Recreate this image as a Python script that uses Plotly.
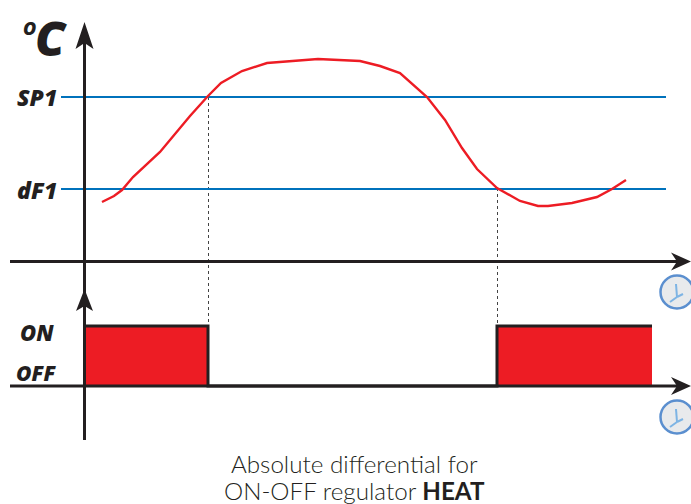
import plotly.graph_objects as go

curve_t = [102,114,122,133,160,190,208,221,242,267,318,360,380,400,427,445,462,477,497,520,538,548,572,597,612,626]
curve_v = [202,196,190,177,152,116,96,83,71,63,59,61,66,73,97,120,148,169,188,201,206,206,203,197,189,180]
levels = {"SP1": 97, "dF1": 189}
on_periods = [(85, 208), (497, 652)]
y_on, y_off = 327, 386
y_axis_temp = 261.5
clocks = [(677, 292), (677, 417)]

DARK = "#231f20"
RED = "#ed1c24"
BLUE = "#0072bc"
FONT = "Open Sans"

fig = go.Figure()

def line(xs, ys, color=DARK, width=3, dash=None, shape="linear"):
    fig.add_trace(go.Scatter(x=xs, y=ys, mode="lines", hoverinfo="skip",
                             line=dict(color=color, width=width, dash=dash, shape=shape)))

def poly(xs, ys, fill, color=None, width=0):
    fig.add_trace(go.Scatter(x=xs, y=ys, mode="lines", fill="toself", fillcolor=fill, hoverinfo="skip",
                             line=dict(color=color or fill, width=width)))

# ON bars
for a, b in on_periods:
    poly([a, b, b, a, a], [y_on, y_on, y_off, y_off, y_on], RED)

# Dashed drop lines
line([208.5, 208.5], [97, y_on], "#444444", 1, "3px,3px")
line([497.5, 497.5], [188, y_on], "#444444", 1, "3px,3px")

# Level lines
for name, y in levels.items():
    line([61, 666], [y, y], BLUE, 2)

# Axes
line([84.5, 84.5], [40, 440], DARK, 3)
line([10, 680], [y_axis_temp, y_axis_temp], DARK, 3)
line([10, 680], [y_off, y_off], DARK, 3)

# Arrowheads
poly([84.5, 93.5, 84.5, 75.5, 84.5], [22, 49, 43, 49, 22], DARK)
poly([84.5, 93, 84.5, 76, 84.5], [289, 311, 306, 311, 289], DARK)
for y in (y_axis_temp, y_off):
    poly([691, 671, 677, 671, 691], [y, y - 9, y, y + 9, y], DARK)

# ON state outline
line([85, 208, 208, 497, 497, 652], [326, 326, y_off, y_off, 326, 326], DARK, 3)

# Curve
line(curve_t, curve_v, RED, 2.4)

# Clock icons
shapes = []
for cx, cy in clocks:
    shapes.append(dict(type="circle", xref="x", yref="y", x0=cx-16.5, x1=cx+16.5, y0=cy-16.5, y1=cy+16.5,
                       fillcolor="#e8eaec", line=dict(color="#5b8fcf", width=2.5)))
    shapes.append(dict(type="line", xref="x", yref="y", x0=cx, x1=cx-7, y0=cy+5, y1=cy+10,
                       line=dict(color="#7db4e4", width=2)))
    shapes.append(dict(type="line", xref="x", yref="y", x0=cx, x1=cx-1, y0=cy+5, y1=cy-8,
                       line=dict(color="#7db4e4", width=2)))
    shapes.append(dict(type="line", xref="x", yref="y", x0=cx, x1=cx+6, y0=cy+5, y1=cy+2,
                       line=dict(color="#7db4e4", width=2)))

def label(x, y, text, size, anchor="left", family=FONT, weight=None, style=None):
    fig.add_annotation(x=x, y=y, text=text, showarrow=False, xanchor=anchor, yanchor="middle",
                       xref="x", yref="y",
                       font=dict(family=family, size=size, color=DARK, weight=weight, style=style))

label(21, 28, "O", 18, weight=800, style="italic")
label(33, 37, "C", 48, weight=800, style="italic")
label(15, 97, "SP1", 23, weight=800, style="italic")
label(15, 190, "dF1", 23, weight=800, style="italic")
label(18, 332, "ON", 22, weight=800, style="italic")
label(14, 373, "OFF", 21, weight=800, style="italic")
label(354, 463.5, "Absolute differential for", 24.2, "center", "Lato", 300)
label(354, 490.5, "ON-OFF regulator <b>HEAT</b>", 24.2, "center", "Lato", 300)

fig.update_layout(
    width=691, height=504, autosize=False, showlegend=False,
    margin=dict(l=0, r=0, t=0, b=0),
    paper_bgcolor="white", plot_bgcolor="white", shapes=shapes,
    xaxis=dict(range=[0, 691], visible=False, fixedrange=True),
    yaxis=dict(range=[504, 0], visible=False, fixedrange=True),
)
fig.write_html("out.html", config={"displayModeBar": False},
               post_script="document.body.style.margin='0';document.documentElement.style.overflow='hidden';")
